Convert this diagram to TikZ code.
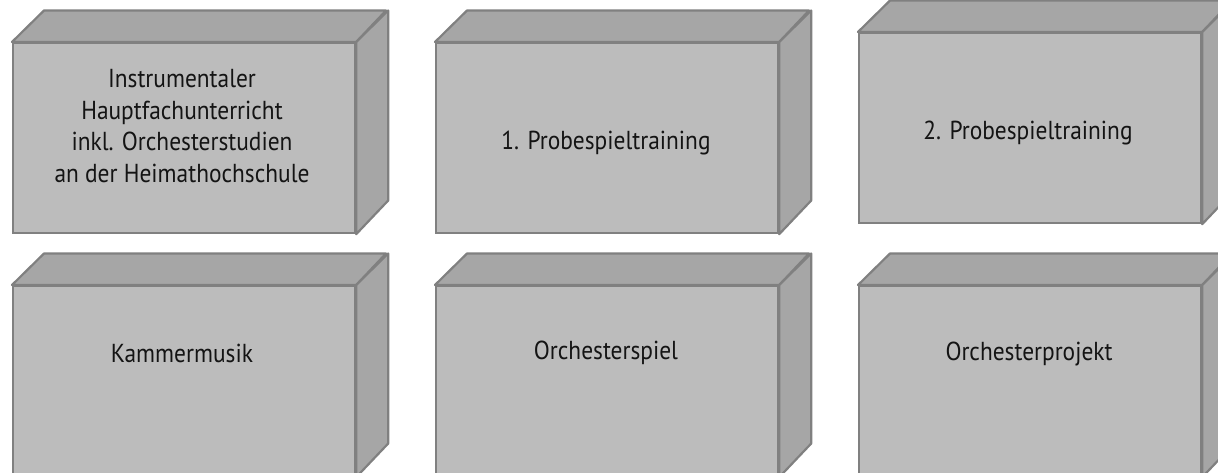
\documentclass[tikz,border=0pt]{standalone}
\usepackage{fontspec}
\setmainfont[FakeStretch=0.9]{PT Sans}
\definecolor{frontc}{HTML}{BCBCBC}
\definecolor{sidec}{HTML}{A6A6A6}
\definecolor{edgec}{HTML}{808080}
\begin{document}
\begin{tikzpicture}[x=1pt,y=-1pt,
  front/.style={draw=edgec, fill=frontc, line width=2.2pt, minimum width=342pt, minimum height=190pt, inner sep=0pt, anchor=north west},
  face/.style={draw=edgec, fill=sidec, line width=2.2pt, line join=round},
  lbl/.style={font=\fontsize{26}{31.5}\selectfont, text=black!92, align=center}]
\useasboundingbox (0,0) rectangle (1218,473);
\clip (0,0) rectangle (1218,473);
\node[front] (b1) at (12,42) {};
\node[front] (b2) at (435,42) {};
\node[front] (b3) at (858,32) {};
\node[front] (b4) at (12,285) {};
\node[front] (b5) at (435,285) {};
\node[front] (b6) at (858,285) {};
\foreach \b in {b1,b2,b3,b4,b5,b6}{
  \draw[face] (\b.north west) -- ++(32,-31.5) -- ++(342,0) -- (\b.north east) -- cycle;
  \draw[face] (\b.north east) -- ++(32,-31.5) -- ++(0,190) -- (\b.south east) -- cycle;
}
\node[lbl] (t1) at (182,126) {Instrumentaler\\Hauptfachunterricht\\inkl. Orchesterstudien\\an der Heimathochschule};
\node[lbl] (t2) at (606,143) {1. Probespieltraining};
\node[lbl] (t3) at (1028,133) {2. Probespieltraining};
\node[lbl] (t4) at (182,353) {Kammermusik};
\node[lbl] (t5) at (606,353) {Orchesterspiel};
\node[lbl] (t6) at (1029,354) {Orchesterprojekt};
\end{tikzpicture}
\end{document}
